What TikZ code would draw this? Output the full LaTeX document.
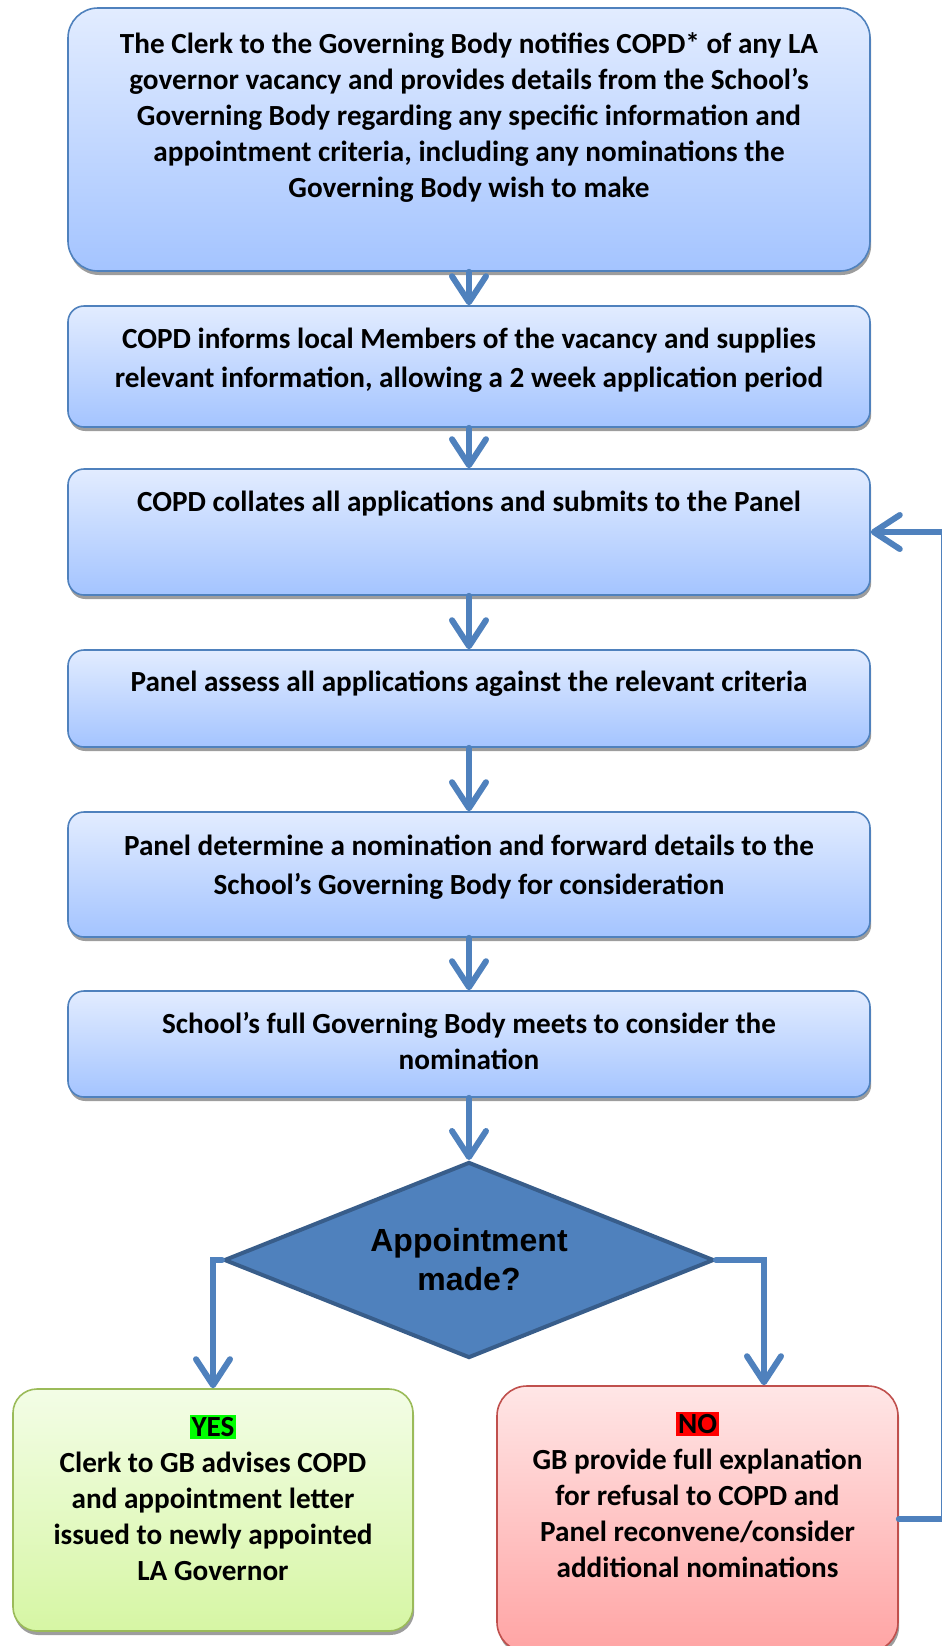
\documentclass[tikz,border=0pt]{standalone}
\usepackage{fontspec}
\setmainfont{Carlito}
\newfontfamily\diamondfont{Liberation Sans}
\usetikzlibrary{positioning, calc, shapes.geometric, shadows, arrows.meta}

\definecolor{flowblue}{RGB}{79,129,189}
\definecolor{flowdark}{RGB}{56,93,138}
\definecolor{boxtop}{RGB}{226,236,255}
\definecolor{boxbot}{RGB}{164,196,255}
\definecolor{yestop}{RGB}{243,253,230}
\definecolor{yesbot}{RGB}{214,246,164}
\definecolor{yesline}{RGB}{155,187,89}
\definecolor{notop}{RGB}{255,230,230}
\definecolor{nobot}{RGB}{255,164,164}
\definecolor{noline}{RGB}{192,80,77}
\definecolor{hlgreen}{RGB}{0,255,0}
\definecolor{hlred}{RGB}{255,0,0}

\newcommand{\hlword}[2]{{\setlength{\fboxsep}{1pt}\colorbox{#1}{#2}}}

\begin{document}
\begin{tikzpicture}[
    x=0.5pt, y=-0.5pt,
    boxshadow/.style = {drop shadow={shadow xshift=0.6pt, shadow yshift=-2pt,
                    fill=black!55, opacity=0.7}},
    stepbox/.style = {rectangle, draw=flowblue, line width=0.8pt,
                    rounded corners=8pt, top color=boxtop, bottom color=boxbot,
                    minimum width=401pt, inner sep=0pt, boxshadow},
    yesbox/.style  = {stepbox, draw=yesline, top color=yestop,
                    bottom color=yesbot, rounded corners=12pt},
    nobox/.style   = {stepbox, draw=noline, top color=notop,
                    bottom color=nobot, rounded corners=15pt},
    decision/.style = {diamond, aspect=2.5, draw=flowdark, line width=2pt,
                    fill=flowblue, inner sep=0pt, minimum width=245pt,
                    minimum height=98pt, align=center,
                    font=\diamondfont\bfseries\fontsize{16}{19.5}\selectfont},
    txt/.style     = {align=center, inner sep=0pt,
                    font=\bfseries\fontsize{14.6}{18}\selectfont},
    widetxt/.style = {txt, font=\bfseries\fontsize{14.6}{19.5}\selectfont},
    arr/.style     = {line width=3pt, draw=flowblue, line cap=round,
                    -{Straight Barb[length=13pt, width=17pt, line cap=round,
                    line join=round]}},
]

%% ---- Layout coordinates ----
\def\xMid{469}
\def\xRet{944}

%% ==================================================================
%% BOXES
%% ==================================================================
\useasboundingbox (0,0) rectangle (942,1646);

\node[stepbox, minimum height=131.5pt, rounded corners=15pt] (clerk)
    at (\xMid, 139.5) {};
\node[stepbox, minimum height=60.5pt] (inform) at (\xMid, 366.5) {};
\node[stepbox, minimum height=63pt] (collate) at (\xMid, 532) {};
\node[stepbox, minimum height=48.5pt] (assess) at (\xMid, 698.5) {};
\node[stepbox, minimum height=62.5pt] (determine) at (\xMid, 874.5) {};
\node[stepbox, minimum height=53pt] (meet) at (\xMid, 1044) {};

\node[decision] (made) at (\xMid, 1260) {Appointment\\made?};

\node[yesbox, minimum width=200pt, minimum height=121pt] (yes)
    at (213, 1510) {};
\node[nobox, minimum width=200.5pt, minimum height=133pt] (no)
    at (697.5, 1519) {};

%% ==================================================================
%% TEXTS
%% ==================================================================
\node[txt] (clerktxt) at (\xMid, 118)
    {The Clerk to the Governing Body notifies COPD* of any LA\\
     governor vacancy and provides details from the School’s\\
     Governing Body regarding any specific information and\\
     appointment criteria, including any nominations the\\
     Governing Body wish to make};
\node[widetxt] (informtxt) at (\xMid, 360)
    {COPD informs local Members of the vacancy and supplies\\
     relevant information, allowing a 2 week application period};
\node[txt] (collatetxt) at (\xMid, 504)
    {COPD collates all applications and submits to the Panel};
\node[txt] (assesstxt) at (\xMid, 684)
    {Panel assess all applications against the relevant criteria};
\node[widetxt] (determinetxt) at (\xMid, 867)
    {Panel determine a nomination and forward details to the\\
     School’s Governing Body for consideration};
\node[txt] (meettxt) at (\xMid, 1041)
    {School’s full Governing Body meets to consider the\\
     nomination};

\node[txt] (yestxt) at (213, 1498)
    {\hlword{hlgreen}{YES}\\
     Clerk to GB advises COPD\\
     and appointment letter\\
     issued to newly appointed\\
     LA Governor};
\node[txt] (notxt) at (697.5, 1495)
    {\hlword{hlred}{NO}\\
     GB provide full explanation\\
     for refusal to COPD and\\
     Panel reconvene/consider\\
     additional nominations};

%% ==================================================================
%% CONNECTIONS
%% ==================================================================
\draw[arr] (clerk.south) -- (inform.north);
\draw[arr] (inform.south) -- (collate.north);
\draw[arr] (collate.south) -- (assess.north);
\draw[arr] (assess.south) -- (determine.north);
\draw[arr] (determine.south) -- (meet.north);
\draw[arr] (meet.south) -- (made.north);

%% yes / no branches
\draw[arr] (made.west) -| (yes.north);
\draw[arr] (made.east) -| (764,0 |- no.north);

%% back to the panel
\draw[arr] (no.east) -- (\xRet,0 |- no.east) |- (collate.east);

\end{tikzpicture}
\end{document}
